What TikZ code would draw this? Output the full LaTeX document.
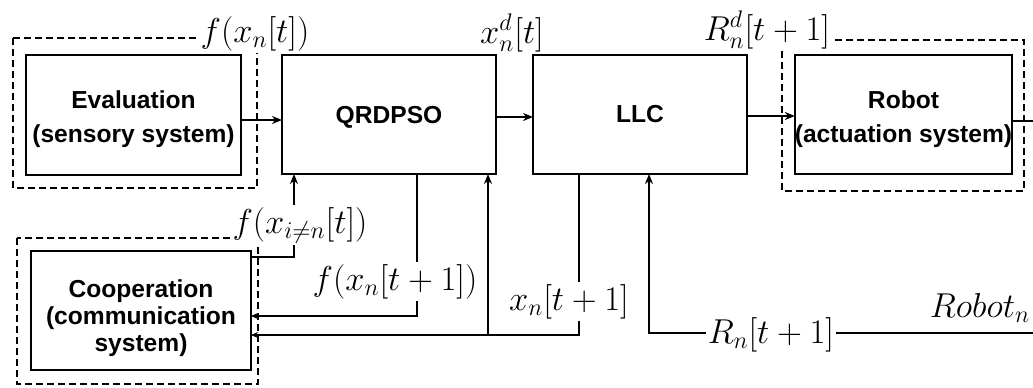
\documentclass[tikz,border=0pt]{standalone}
\usepackage{fontspec}
\setsansfont{Liberation Sans}
\usetikzlibrary{arrows.meta}
\begin{document}
\begin{tikzpicture}[x=0.5pt,y=-0.5pt,
  blk/.style={draw,line width=1.1pt,inner sep=0pt,outer sep=0pt,align=center,
    font=\sffamily\bfseries\fontsize{12.3}{17}\selectfont},
  grp/.style={draw,line width=1pt,dash pattern=on 3.5pt off 2pt},
  conn/.style={line width=0.9pt},
  arr/.style={conn,-{Stealth[length=5pt,width=4pt]}},
  sarr/.style={conn,-{Stealth[length=3.5pt,width=3pt]}},
  lbl/.style={fill=white,inner sep=1pt,anchor=base,font=\fontsize{16.5}{18}\selectfont}]
\useasboundingbox (0,0) rectangle (1033,387);
\clip (0,0) rectangle (1033,387);
\fill[white] (0,0) rectangle (1033,387);
% groups
\draw[grp] (13,38) rectangle (257,188);
\draw[grp] (782,40) rectangle (1024,191);
\draw[grp] (17,238) rectangle (258,384);
% blocks
\node[blk,minimum width=107.5pt,minimum height=60pt] (eval) at (133.5,115) {\rule{0pt}{13pt}Evaluation\\(sensory system)};
\node[blk,minimum width=107pt,minimum height=59.5pt] (qr) at (389,114.5) {\rule{0pt}{11pt}QRDPSO};
\node[blk,minimum width=107pt,minimum height=59.5pt] (llc) at (640,114.5) {LLC};
\node[blk,minimum width=107.5pt,minimum height=59.5pt] (robot) at (903.5,114.5) {\rule{0pt}{13.5pt}Robot\\(actuation system)};
\node[blk,minimum width=110pt,minimum height=59.5pt,font=\sffamily\bfseries\fontsize{12.3}{13.5}\selectfont] (coop) at (141,310.5) {\rule{0pt}{16.5pt}Cooperation\\(communication\\system)};
% connectors
\draw[arr] (eval.east |- 0,120) -- (qr.west |- 0,120);
\draw[arr] (qr.east |- 0,117) -- (llc.west |- 0,117);
\draw[arr] (llc.east |- 0,116) -- (robot.west |- 0,116);
\draw[arr] (robot.east |- 0,121) -- (1045,121) -- (1045,333) -- (649,333) -- (llc.south -| 649,0);
\draw[arr] (coop.east |- 0,257) -| (qr.south -| 294,0);
\draw[sarr] (qr.south -| 417,0) |- (coop.east |- 0,316);
\draw[sarr] (llc.south -| 579,0) |- (coop.east |- 0,335);
\coordinate (j) at (488,335);
\draw[arr] (j) -- (qr.south -| j);
% labels
\node[lbl] (l1) at (255,42) {$f(x_n[t])$};
\node[lbl] (l2) at (512,43) {$x_n^d[t]$};
\node[lbl] (l3) at (767,40) {$R_n^d[t+1]$};
\node[lbl] (l4) at (300,233) {$f(x_{i\neq n}[t])$};
\node[lbl] (l5) at (395,290) {$f(x_n[t+1])$};
\node[lbl] (l6) at (569,310) {$x_n[t+1]$};
\node[lbl] (l7) at (771,343) {$R_n[t+1]$};
\node[lbl] (l8) at (980,317) {$Robot_n$};
\end{tikzpicture}
\end{document}
